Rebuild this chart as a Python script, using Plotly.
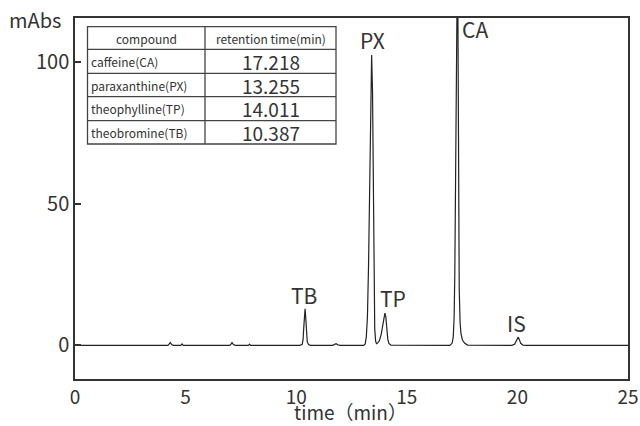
import plotly.graph_objects as go

# ---------------- data ----------------
time_min = [
    0.00, 4.20, 4.26, 4.31, 4.37, 4.45, 4.78, 4.84, 4.89,
    7.00, 7.06, 7.10, 7.16, 7.25, 7.84, 7.89, 7.94,
    10.15, 10.27, 10.31, 10.34, 10.37, 10.40, 10.43, 10.46, 10.50, 10.56, 10.65,
    11.65, 11.75, 11.80, 11.88, 11.98,
    13.05, 13.12, 13.17, 13.22, 13.27, 13.32, 13.37, 13.41, 13.45, 13.49, 13.52,
    13.55, 13.59, 13.63, 13.68, 13.76, 13.84, 13.91, 13.97, 14.01, 14.05, 14.10,
    14.14, 14.19, 14.28,
    16.95, 17.05, 17.10, 17.14, 17.17, 17.20, 17.24, 17.28, 17.31, 17.34, 17.37,
    17.41, 17.45, 17.52, 17.62, 17.75,
    19.75, 19.87, 19.94, 20.00, 20.04, 20.09, 20.15, 20.25, 20.40,
    25.00,
]
absorbance_mabs = [
    0.0, 0.0, 0.5, 1.0, 0.3, 0.0, 0.0, 0.5, 0.0,
    0.0, 0.5, 1.0, 0.3, 0.0, 0.0, 0.4, 0.0,
    0.0, 0.3, 2.0, 6.0, 11.0, 12.9, 10.0, 4.5, 1.2, 0.3, 0.0,
    0.0, 0.5, 0.6, 0.2, 0.0,
    0.0, 0.5, 3.0, 10.0, 28.0, 60.0, 92.0, 102.6, 90.0, 55.0, 20.0,
    6.0, 1.5, 0.6, 0.8, 1.6, 3.8, 7.5, 10.6, 11.4, 10.2, 5.5,
    2.2, 0.7, 0.1,
    0.0, 0.8, 3.0, 10.0, 25.0, 55.0, 100.0, 130.0, 118.0, 52.0, 20.0,
    8.0, 4.0, 1.8, 0.7, 0.1,
    0.0, 0.4, 1.6, 2.7, 2.9, 2.0, 0.7, 0.1, 0.0,
    0.0,
]

x_ticks = [0, 5, 10, 15, 20, 25]
y_ticks = [0, 50, 100]

peak_labels = ["TB", "PX", "TP", "CA", "IS"]

table_header = ["compound", "retention time(min)"]
compounds = ["caffeine(CA)", "paraxanthine(PX)", "theophylline(TP)", "theobromine(TB)"]
retention_times = ["17.218", "13.255", "14.011", "10.387"]

# ---------------- layout constants ----------------
W, H = 640, 426
PL, PR, PT, PB = 75, 628, 18, 379   # plot area in pixels
FONT = "Noto Sans CJK JP"
TXT = "#333333"


def px_x(px):
    return (px - PL) / (PR - PL)


def px_y(py):
    return (PB - py) / (PB - PT)


fig = go.Figure()
fig.add_trace(go.Scatter(
    x=time_min, y=absorbance_mabs, mode="lines",
    line=dict(color="#222222", width=1.2),
    hoverinfo="skip", showlegend=False,
))

annotations = []
shapes = []

# peak labels (pixel centres)
peak_label_px = [(304, 295), (372, 40), (393, 298), (475, 29), (516, 323)]
for lab, (cx, cy) in zip(peak_labels, peak_label_px):
    annotations.append(dict(
        text=lab, x=px_x(cx), y=px_y(cy), xref="paper", yref="paper",
        showarrow=False, font=dict(family=FONT, size=21, color=TXT),
        xanchor="center", yanchor="middle",
    ))

# mAbs unit
annotations.append(dict(
    text="mAbs", x=px_x(35), y=px_y(20), xref="paper", yref="paper",
    showarrow=False, font=dict(family=FONT, size=20, color=TXT),
    xanchor="center", yanchor="middle",
))

# x axis title
annotations.append(dict(
    text="time（min）", x=px_x(350), y=px_y(426), xref="paper", yref="paper",
    showarrow=False, font=dict(family=FONT, size=19, color=TXT),
    xanchor="center", yanchor="bottom", borderpad=0,
))

# ---------------- table ----------------
tx0, tx1, tcol = 87.5, 336, 205
row_y = [26.7, 49.3, 73.3, 96.7, 120.7, 144]
line_style = dict(color="#444444", width=1.3)
shapes.append(dict(type="rect", xref="paper", yref="paper",
                   x0=px_x(tx0), x1=px_x(tx1), y0=px_y(row_y[-1]), y1=px_y(row_y[0]),
                   line=line_style, fillcolor="white", layer="above"))
for ry in row_y[1:-1]:
    shapes.append(dict(type="line", xref="paper", yref="paper",
                       x0=px_x(tx0), x1=px_x(tx1), y0=px_y(ry), y1=px_y(ry),
                       line=line_style, layer="above"))
shapes.append(dict(type="line", xref="paper", yref="paper",
                   x0=px_x(tcol), x1=px_x(tcol), y0=px_y(row_y[-1]), y1=px_y(row_y[0]),
                   line=line_style, layer="above"))

hy = (row_y[0] + row_y[1]) / 2
annotations.append(dict(text=table_header[0], x=px_x((tx0 + tcol) / 2), y=px_y(hy),
                        xref="paper", yref="paper", showarrow=False,
                        font=dict(family=FONT, size=12, color=TXT),
                        xanchor="center", yanchor="middle"))
annotations.append(dict(text=table_header[1], x=px_x((tcol + tx1) / 2), y=px_y(hy),
                        xref="paper", yref="paper", showarrow=False,
                        font=dict(family=FONT, size=12, color=TXT),
                        xanchor="center", yanchor="middle"))
for i, (c, rt) in enumerate(zip(compounds, retention_times)):
    cy = (row_y[i + 1] + row_y[i + 2]) / 2
    annotations.append(dict(text=c, x=px_x(tx0 + 1.5), y=px_y(cy),
                            xref="paper", yref="paper", showarrow=False,
                            font=dict(family=FONT, size=12, color=TXT),
                            xanchor="left", yanchor="middle"))
    annotations.append(dict(text=rt, x=px_x((tcol + tx1) / 2), y=px_y(cy),
                            xref="paper", yref="paper", showarrow=False,
                            font=dict(family=FONT, size=19, color=TXT),
                            xanchor="center", yanchor="middle", borderpad=0))

fig.update_layout(
    width=W, height=H,
    margin=dict(l=PL, r=W - PR, t=PT, b=H - PB, pad=0, autoexpand=False),
    paper_bgcolor="white", plot_bgcolor="white",
    font=dict(family=FONT, color=TXT),
    xaxis=dict(
        range=[0, 25], tickvals=x_ticks, ticktext=[str(v) for v in x_ticks],
        ticks="", showgrid=False, zeroline=False, automargin=False,
        showline=True, linecolor="#333333", linewidth=1.5, mirror=True,
        tickfont=dict(family=FONT, size=19, color=TXT), ticklabelstandoff=0,
    ),
    yaxis=dict(
        range=[-11.9, 115.7], tickvals=y_ticks, ticktext=[str(v) for v in y_ticks],
        ticks="inside", ticklen=6, tickwidth=1.5, tickcolor="#333333",
        showgrid=False, zeroline=False, automargin=False,
        showline=True, linecolor="#333333", linewidth=1.5, mirror=True,
        tickfont=dict(family=FONT, size=20, color=TXT),
    ),
    shapes=shapes,
    annotations=annotations,
)

fig.write_html(
    "out.html",
    config={"displayModeBar": False},
    post_script="document.body.style.margin='0';document.body.style.padding='0';",
)
